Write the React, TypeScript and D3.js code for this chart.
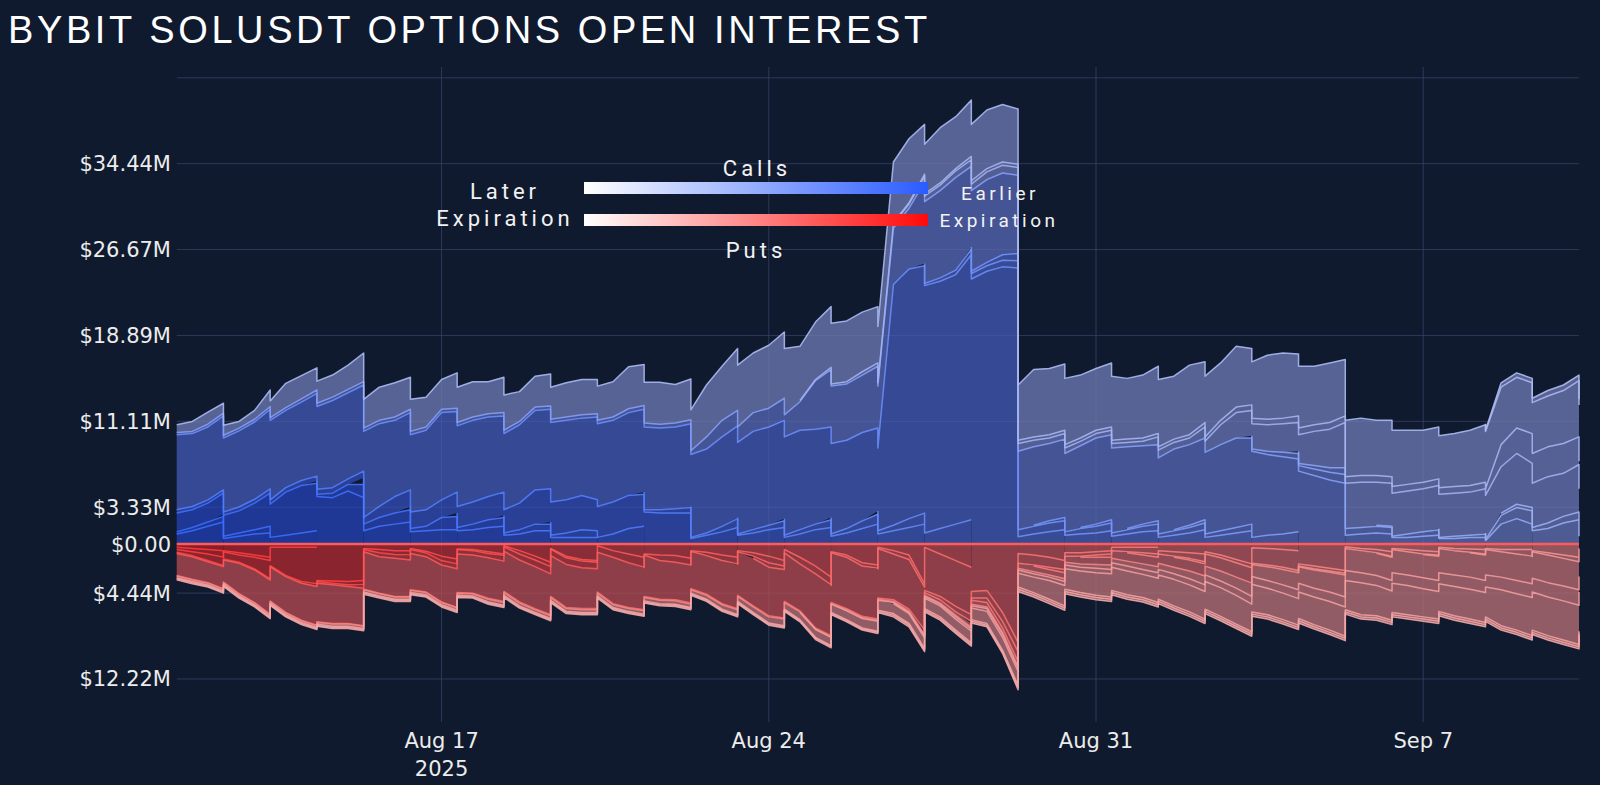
import React from 'react'
import * as d3 from 'd3'

// ---------- axis ticks ----------
const yTickValues = [-12.222, -4.444, 0, 3.333, 11.111, 18.889, 26.667, 34.444, 42.222]
const yTickLabels = ['$12.22M', '$4.44M', '$0.00', '$3.33M', '$11.11M', '$18.89M', '$26.67M', '$34.44M', '']
const xTickDates = ['2025-08-17', '2025-08-24', '2025-08-31', '2025-09-07']
const xTickLabels = [['Aug 17', '2025'], ['Aug 24'], ['Aug 31'], ['Sep 7']]

// samples every 8h starting 2025-08-11 08:00 UTC (index k = 0..90), values in $M
const startTime = '2025-08-11T08:00:00Z'
const sampleCount = 91

// ---------- calls open interest per expiry ----------
const callAug12 = [0.9, 1.2, 1.6, 2.0]
const callAug13 = [0.2, 0.3, 0.4, 0.5, 0.7, 0.9, 1.0]
const callAug14 = [0.2, 0.3, 0.4, 0.6, 0.8, 1.0, 1.2]
const callAug15 = [1.7, 1.6, 1.7, 1.9, 2.0, 2.4, 3.0, 3.9, 4.3, 4.3, 4.2, 4.8, 4.2]
const callAug16 = [0.2, 0.4, 0.6, 1.2, 1.6, 1.8, 2.0]
const callAug17 = [0.6, 0.8, 1.0, 1.1, 1.2, 1.3, 1.3]
const callAug18 = [0.3, 0.4, 1.1, 1.2, 1.3, 1.5, 1.6]
const callAug19 = [0.3, 0.5, 0.7, 0.8, 0.9, 1.2, 1.2]
const callAug20 = [0.2, 0.4, 0.6, 0.6, 0.6, 0.6, 0.6]
const callAug21 = [0.2, 0.4, 0.7, 0.6, 0.9, 1.4, 1.6]
const callAug22 = [0.3, 0.3, 0.3, 0.3, 0.35, 0.35, 0.4, 0.4, 0.45, 0.45, 0.5, 0.5, 0.6,
  1.0, 1.5, 1.5, 1.5, 1.6, 1.9, 2.0, 2.1, 2.1, 2.4, 3.1, 3.0, 3.0, 3.1, 2.8, 2.9, 3.0, 2.9, 2.8, 2.8, 2.8]
const callAug23 = [0.2, 0.3, 0.4, 0.5, 0.8, 1.1, 1.5]
const callAug24 = [0.1, 0.2, 0.5, 0.8, 1.0, 1.3, 1.5]
const callAug25 = [0.1, 0.3, 0.4, 0.6, 0.9, 1.3, 1.5]
const callAug26 = [0.2, 0.4, 0.5, 0.7, 1.0, 1.4, 1.8]
const callAug27 = [0.2, 0.4, 0.7, 0.9, 1.2, 1.5, 1.8]
const callAug28 = [0.3, 0.5, 0.8, 1.0, 1.4, 1.8, 2.2]
const callAug29 = [6.8, 6.6, 6.6, 6.7, 6.9, 7.0, 7.2, 7.0, 7.1, 7.5, 7.9, 7.8, 7.8, 7.5, 6.9, 7.0, 7.2, 7.9, 7.3, 7.4, 7.2,
  6.9, 7.1, 7.2, 7.2, 7.2, 7.0, 7.5, 7.4, 7.5, 7.5, 7.4, 7.4, 7.5,
  7.6, 8.1, 8.3, 8.9, 8.9, 8.9, 9.0, 8.6, 8.2, 8.0, 8.0, 7.5,
  21.8, 22.6, 22.4, 22.4, 22.6, 24.0, 24.7, 25.1, 25.0]
const callAug30 = [0.2, 0.3, 0.4, 0.5, 0.5, 0.6, 0.66, 0.9, 1.1, 1.3]
const callAug31 = [0.2, 0.3, 0.5, 0.64, 0.7, 0.8, 0.8, 0.9, 1.0, 1.2]
const callSep1 = [0.1, 0.2, 0.3, 0.5, 0.6, 0.7, 0.9, 1.1, 1.2]
const callSep2 = [0.1, 0.2, 0.3, 0.4, 0.5, 0.6, 0.8, 1.0, 1.3]
const callSep3 = [0.1, 0.2, 0.3, 0.4, 0.5, 0.6, 0.8, 1.0, 1.2]
const callSep4 = [0.1, 0.2, 0.3, 0.4, 0.5, 0.6, 0.8, 0.9, 1.1]
const callSep5 = [0.2, 0.2, 0.25, 0.25, 0.25, 0.25, 0.25, 0.25, 0.3, 0.3, 0.3, 0.3,
  0.3, 0.3, 0.3, 0.3, 0.3, 0.3, 0.3, 0.3, 0.3, 0.3, 0.3, 0.3, 0.3, 0.3, 0.3, 0.3, 0.3, 0.35, 0.35, 0.35, 0.35, 0.35,
  1.1, 1.5, 1.4, 1.7, 1.7, 2.0, 2.6, 4.4, 5.2, 5.1, 5.2, 5.6,
  5.1, 5.5, 7.4, 7.9, 8.4, 7.3, 7.5, 7.4, 7.1,
  7.1, 7.0, 7.1, 7.4, 7.8, 7.7, 7.4, 7.1, 6.9, 7.3, 7.3, 7.4, 7.8, 8.1, 7.8, 7.3, 7.0, 6.6, 6.2, 5.8, 5.5]
const callSep6 = [0.2, 0.3, 0.4, 0.5, 0.6, 0.7, 0.8, 0.9, 1.0, 0.9]
const callSep7 = [0.2, 0.3, 0.4, 0.6, 0.6, 0.6, 0.6, 0.6, 0.7, 0.8]
const callSep8 = [0.1, 0.1, 0.3, 0.4, 0.5, 0.5, 0.6, 0.6]
const callSep9 = [0.1, 0.2, 0.2, 0.3, 1.8, 2.3, 1.8]
const callSep10 = [0.1, 0.8, 1.0, 1.2, 1.4, 1.9, 2.2]
const callSep11 = [0.2, 0.3, 0.3, 0.5, 0.6, 0.7]
const callSep12 = [0.1, 0.1, 0.2, 0.2, 0.3, 0.3, 0.4, 0.4, 0.5, 0.5, 0.6, 0.6, 0.7, 0.7,
  0.7, 0.6, 0.5, 0.5, 0.4, 0.4, 0.4, 0.4, 0.4, 0.7, 0.6, 0.6, 1.0, 1.8, 2.3, 2.3, 2.4, 2.6, 2.6, 3.1, 3.5, 4.1,
  4.1, 3.9, 3.9, 3.9, 3.9, 3.9, 3.9, 3.9, 4.0, 4.2, 4.6, 4.0, 4.2, 3.9, 4.3]
const callSep19 = [0.1, 0.1, 0.2, 0.2, 0.2, 0.3, 0.3, 0.3,
  0.3, 0.3, 0.3, 0.3, 0.3, 0.3, 0.3, 0.3, 0.3, 0.3, 0.3, 0.3,
  0.4, 0.4, 0.5, 0.5, 0.5, 0.5, 0.6, 0.6, 0.6, 0.6,
  0.6, 0.6, 0.6, 0.6, 0.6, 0.6, 0.6, 0.6, 0.6,
  2.0, 2.3, 2.7, 2.7, 2.7, 2.5]
const callSep26 = [0.7, 0.9, 1.1, 0.9, 0.6, 0.8, 1.5, 2.2, 2.1, 2.0, 2.0, 2.2, 2.6, 3.0, 3.1, 2.9, 2.7, 2.7, 3.2, 3.2,
  2.9, 3.2, 2.7, 2.8, 2.9, 3.1, 3.2, 3.1, 3.2, 3.8, 3.7, 3.8, 3.5, 3.7,
  4.7, 4.9, 5.6, 5.4, 5.7, 6.0, 4.9, 5.2, 5.5, 5.5, 5.4, 5.1,
  5.5, 5.8, 4.5, 5.0, 4.7, 5.1, 5.3, 5.2,
  5.0, 6.1, 6.0, 6.0, 5.7, 5.6, 5.8, 5.5, 5.7, 6.1, 5.7, 6.3, 5.5, 5.2, 5.5, 5.1, 5.8, 5.9, 5.6, 5.3, 5.4, 5.1,
  5.2, 5.0, 5.1, 4.9, 4.7, 4.7, 4.8, 5.0, 5.2, 5.2, 4.6, 4.6, 4.6, 4.8, 5.1]
const callOct31 = [0.1, 0.4, 0.4, 0.4, 0.5, 0.5, 0.5]

// ---------- puts open interest per expiry ----------
const putAug12 = [0.3, 0.4, 0.5, 0.6]
const putAug13 = [0.2, 0.3, 0.4, 0.6, 0.8, 1.0, 1.2]
const putAug14 = [0.1, 0.2, 0.2, 0.3, 0.3, 0.3, 0.3]
const putAug15 = [0.25, 0.35, 0.6, 0.65, 0.65, 1.05, 1.66, 2.55, 3.1, 3.3, 3.35, 3.4, 3.3]
const putAug16 = [0.1, 0.2, 0.3, 0.4, 0.5, 0.6, 0.6]
const putAug17 = [0.1, 0.3, 0.35, 0.4, 0.65, 1.1, 1.35]
const putAug18 = [0.1, 0.15, 0.4, 0.45, 0.5, 0.7, 0.9]
const putAug19 = [0.05, 0.1, 0.15, 0.15, 0.6, 1.1, 1.65]
const putAug20 = [0.1, 0.3, 0.35, 0.4, 1.1, 1.4, 1.5]
const putAug21 = [0.05, 0.15, 0.15, 0.15, 0.6, 0.9, 1.2]
const putAug22 = [0.1, 0.1, 0.1, 0.1, 0.1, 0.1, 0.1, 0.1, 0.15, 0.15, 0.15, 0.15, 0.2,
  0.35, 0.35, 0.35, 0.35, 0.4, 0.4, 0.4, 0.4, 0.4, 0.55, 0.6, 0.6, 0.6, 0.6, 0.6, 0.6, 0.8, 0.9, 1.0, 1.05, 1.3]
const putAug23 = [0.1, 0.5, 0.6, 0.6, 0.75, 1.0, 1.2]
const putAug24 = [0.05, 0.3, 0.5, 0.6, 0.8, 1.1, 1.5]
const putAug25 = [0.1, 0.3, 0.6, 0.5, 1.2, 2.0, 3.0]
const putAug26 = [0.2, 0.4, 0.3, 0.6, 0.7, 0.7, 1.0, 1.7, 1.9]
const putAug27 = [0.1, 0.2, 0.3, 0.3, 0.6, 1.0, 3.6]
const putAug28 = [0.1, 0.3, 0.4, 0.3, 0.9, 1.5, 2.1]
const putAug29 = [2.0, 2.05, 1.9, 2.0, 2.75, 2.95, 3.1, 3.25, 3.35, 3.5, 3.5, 3.35, 3.4, 3.3, 3.45, 3.3, 3.2, 3.35, 3.5, 3.45, 3.65,
  3.65, 3.8, 3.8, 3.7, 3.9, 3.7, 3.6, 4.2, 4.05, 3.75, 3.5, 3.4, 3.4,
  3.5, 3.9, 3.95, 4.3, 4.4, 4.4, 4.25, 4.9, 4.5, 4.65, 4.55, 4.5, 4.15, 4.5, 3.9, 3.85, 4.15, 4.3, 4.2, 6.2, 8.9]
const putAug30 = [0.2, 0.3, 0.5, 0.6, 0.7, 0.8, 0.85, 1.0, 1.2, 1.5]
const putAug31 = [0.2, 0.4, 0.6, 0.9, 0.9, 0.9, 0.8, 0.8, 0.7, 0.6]
const putSep1 = [0.1, 0.2, 0.3, 0.3, 0.3, 0.3, 0.3, 0.3, 0.3]
const putSep2 = [0.1, 0.2, 0.3, 0.4, 0.5, 0.6, 0.7, 0.8, 0.9]
const putSep3 = [0.1, 0.2, 0.3, 0.4, 0.5, 0.7, 1.0, 1.4, 1.8]
const putSep4 = [0.1, 0.15, 0.2, 0.25, 0.3, 0.35, 0.4, 0.5, 0.6]
const putSep5 = [0.05, 0.05, 0.05, 0.05, 0.05, 0.05, 0.05, 0.05, 0.05, 0.05, 0.05, 0.05, 0.05, 0.05, 0.05, 0.05, 0.05, 0.05, 0.05, 0.05,
  0.1, 0.1, 0.1, 0.1, 0.1, 0.1, 0.1, 0.1, 0.1, 0.1, 0.1, 0.1, 0.1, 0.1, 0.1, 0.1, 0.1, 0.1, 0.1, 0.1, 0.1, 0.1, 0.1, 0.1, 0.1, 0.1,
  0.15, 0.2, 0.25, 0.3, 0.3, 0.35, 0.4, 0.4, 0.45,
  0.5, 0.5, 0.55, 0.6, 0.65, 0.7, 0.75, 0.8, 0.85, 0.9, 1.0, 1.1, 1.2, 1.3, 1.4, 1.5, 1.6, 1.8, 2.0, 2.2, 2.4]
const putSep6 = [0.1, 0.15, 0.2, 0.2, 0.25, 0.25, 0.25, 0.4, 0.5, 0.7]
const putSep7 = [0.05, 0.1, 0.1, 0.15, 0.2, 0.3, 0.4, 0.5, 0.6, 0.7]
const putSep8 = [0.05, 0.1, 0.2, 0.3, 0.3, 0.4, 0.45, 0.5]
const putSep9 = [0.05, 0.1, 0.2, 0.3, 0.4, 0.5, 0.5, 0.5]
const putSep10 = [0.05, 0.1, 0.2, 0.4, 0.6, 0.8, 1.0, 1.2]
const putSep11 = [0.1, 0.2, 0.3, 0.4]
const putSep12 = [0.05, 0.05, 0.05, 0.1, 0.1, 0.1, 0.1, 0.1, 0.1, 0.1, 0.15, 0.15, 0.15, 0.15, 0.15,
  0.2, 0.2, 0.25, 0.3, 0.35, 0.4, 0.45, 0.5, 0.55, 0.6, 0.7, 0.8, 0.9, 1.0, 1.1, 1.25, 1.4, 1.5, 1.65, 1.8, 2.0,
  2.0, 2.0, 2.1, 2.1, 2.1, 2.2, 2.2, 2.2, 2.3, 2.3, 2.4, 2.4, 2.5, 2.5, 2.55]
const putSep19 = [0.1, 0.1, 0.15, 0.15, 0.2, 0.2, 0.25, 0.3, 0.3,
  0.3, 0.3, 0.35, 0.35, 0.4, 0.4, 0.45, 0.45, 0.5, 0.5, 0.55, 0.6, 0.6, 0.65, 0.7, 0.7, 0.75, 0.8, 0.8, 0.85, 0.9,
  0.9, 0.9, 0.95, 0.95, 1.0, 1.0, 1.05, 1.1, 1.1, 1.15, 1.2, 1.25, 1.3, 1.35, 1.4]
const putSep26 = [0.15, 0.15, 0.15, 0.15, 0.15, 0.15, 0.15, 0.15, 0.15, 0.15,
  0.2, 0.2, 0.2, 0.2, 0.2, 0.2, 0.2, 0.2, 0.2, 0.2,
  0.25, 0.25, 0.25, 0.25, 0.25, 0.25, 0.25, 0.25, 0.25, 0.25,
  0.3, 0.3, 0.3, 0.3,
  0.35, 0.4, 0.45, 0.5, 0.55, 0.6, 0.65, 0.7, 0.75, 0.8, 0.85, 0.9,
  0.9, 0.9, 0.95, 1.0, 1.0, 1.05, 1.1, 1.15,
  1.25, 1.4, 1.7, 1.85, 1.95, 2.05, 2.1, 2.15, 2.1, 2.2, 2.4, 2.45, 2.5, 2.6, 2.6, 2.5, 2.4, 2.4, 2.4, 2.5, 2.6, 2.65,
  2.9, 2.75, 2.65, 2.65, 2.55, 2.5, 2.65, 2.7, 2.7, 3.25, 3.3, 3.45, 3.5, 3.55, 3.55]
const putOct31 = [0.1, 0.1, 0.1, 0.1, 0.1, 0.1, 0.1, 0.1, 0.1, 0.1, 0.1, 0.1, 0.1, 0.1, 0.1, 0.1, 0.1, 0.1, 0.1, 0.1,
  0.1, 0.1, 0.1, 0.1, 0.1, 0.1, 0.1, 0.1, 0.1, 0.1, 0.1, 0.1, 0.1, 0.1, 0.1, 0.1, 0.1, 0.1, 0.1, 0.1, 0.1, 0.1, 0.1, 0.1, 0.1, 0.1,
  0.15, 0.15, 0.15, 0.15, 0.15, 0.15, 0.15, 0.15,
  0.2, 0.2, 0.2, 0.2, 0.2, 0.2, 0.2, 0.2, 0.2, 0.2, 0.2, 0.2, 0.2, 0.2, 0.2, 0.2, 0.2, 0.2, 0.2, 0.2,
  0.2, 0.2, 0.2, 0.2, 0.2, 0.2, 0.2, 0.2, 0.2, 0.2, 0.2, 0.2, 0.2, 0.2, 0.2, 0.2, 0.2]
const putDec26 = [0.1, 0.1, 0.1, 0.1, 0.1, 0.1, 0.1, 0.1, 0.1, 0.1, 0.1, 0.1, 0.1, 0.1, 0.1, 0.1, 0.1, 0.1, 0.1, 0.1,
  0.1, 0.1, 0.1, 0.1, 0.1, 0.1, 0.1, 0.1, 0.1, 0.1, 0.1, 0.1, 0.1, 0.1, 0.1, 0.1, 0.1, 0.1, 0.1, 0.1, 0.1, 0.1, 0.1, 0.1, 0.1, 0.1,
  0.15, 0.15, 0.15, 0.15, 0.15, 0.15, 0.15, 0.15,
  0.2, 0.2, 0.2, 0.2, 0.2, 0.2, 0.2, 0.2, 0.2, 0.2, 0.2, 0.2, 0.2, 0.2, 0.2, 0.2, 0.2, 0.2, 0.2, 0.2,
  0.2, 0.2, 0.2, 0.2, 0.2, 0.2, 0.2, 0.2, 0.2, 0.2, 0.2, 0.2, 0.2, 0.2, 0.2, 0.2, 0.2]

interface Series { exp: string; start: number; v: number[] }

// tables built from the arrays above (expiry ascending = stacked from zero outward)
const callSeries: Series[] = [
  { exp: '2025-08-12', start: 0, v: callAug12 },
  { exp: '2025-08-13', start: 0, v: callAug13 },
  { exp: '2025-08-14', start: 3, v: callAug14 },
  { exp: '2025-08-15', start: 0, v: callAug15 },
  { exp: '2025-08-16', start: 9, v: callAug16 },
  { exp: '2025-08-17', start: 12, v: callAug17 },
  { exp: '2025-08-18', start: 15, v: callAug18 },
  { exp: '2025-08-19', start: 18, v: callAug19 },
  { exp: '2025-08-20', start: 21, v: callAug20 },
  { exp: '2025-08-21', start: 24, v: callAug21 },
  { exp: '2025-08-22', start: 0, v: callAug22 },
  { exp: '2025-08-23', start: 30, v: callAug23 },
  { exp: '2025-08-24', start: 33, v: callAug24 },
  { exp: '2025-08-25', start: 36, v: callAug25 },
  { exp: '2025-08-26', start: 39, v: callAug26 },
  { exp: '2025-08-27', start: 42, v: callAug27 },
  { exp: '2025-08-28', start: 45, v: callAug28 },
  { exp: '2025-08-29', start: 0, v: callAug29 },
  { exp: '2025-08-30', start: 48, v: callAug30 },
  { exp: '2025-08-31', start: 51, v: callAug31 },
  { exp: '2025-09-01', start: 55, v: callSep1 },
  { exp: '2025-09-02', start: 58, v: callSep2 },
  { exp: '2025-09-03', start: 61, v: callSep3 },
  { exp: '2025-09-04', start: 64, v: callSep4 },
  { exp: '2025-09-05', start: 0, v: callSep5 },
  { exp: '2025-09-06', start: 69, v: callSep6 },
  { exp: '2025-09-07', start: 72, v: callSep7 },
  { exp: '2025-09-08', start: 77, v: callSep8 },
  { exp: '2025-09-09', start: 81, v: callSep9 },
  { exp: '2025-09-10', start: 84, v: callSep10 },
  { exp: '2025-09-11', start: 85, v: callSep11 },
  { exp: '2025-09-12', start: 40, v: callSep12 },
  { exp: '2025-09-19', start: 46, v: callSep19 },
  { exp: '2025-09-26', start: 0, v: callSep26 },
  { exp: '2025-10-31', start: 84, v: callOct31 },
]

const putSeries: Series[] = [
  { exp: '2025-08-12', start: 0, v: putAug12 },
  { exp: '2025-08-13', start: 0, v: putAug13 },
  { exp: '2025-08-14', start: 3, v: putAug14 },
  { exp: '2025-08-15', start: 0, v: putAug15 },
  { exp: '2025-08-16', start: 9, v: putAug16 },
  { exp: '2025-08-17', start: 12, v: putAug17 },
  { exp: '2025-08-18', start: 15, v: putAug18 },
  { exp: '2025-08-19', start: 18, v: putAug19 },
  { exp: '2025-08-20', start: 21, v: putAug20 },
  { exp: '2025-08-21', start: 24, v: putAug21 },
  { exp: '2025-08-22', start: 0, v: putAug22 },
  { exp: '2025-08-23', start: 30, v: putAug23 },
  { exp: '2025-08-24', start: 33, v: putAug24 },
  { exp: '2025-08-25', start: 36, v: putAug25 },
  { exp: '2025-08-26', start: 37, v: putAug26 },
  { exp: '2025-08-27', start: 42, v: putAug27 },
  { exp: '2025-08-28', start: 45, v: putAug28 },
  { exp: '2025-08-29', start: 0, v: putAug29 },
  { exp: '2025-08-30', start: 48, v: putAug30 },
  { exp: '2025-08-31', start: 51, v: putAug31 },
  { exp: '2025-09-01', start: 55, v: putSep1 },
  { exp: '2025-09-02', start: 58, v: putSep2 },
  { exp: '2025-09-03', start: 61, v: putSep3 },
  { exp: '2025-09-04', start: 64, v: putSep4 },
  { exp: '2025-09-05', start: 0, v: putSep5 },
  { exp: '2025-09-06', start: 69, v: putSep6 },
  { exp: '2025-09-07', start: 72, v: putSep7 },
  { exp: '2025-09-08', start: 77, v: putSep8 },
  { exp: '2025-09-09', start: 80, v: putSep9 },
  { exp: '2025-09-10', start: 83, v: putSep10 },
  { exp: '2025-09-11', start: 87, v: putSep11 },
  { exp: '2025-09-12', start: 40, v: putSep12 },
  { exp: '2025-09-19', start: 46, v: putSep19 },
  { exp: '2025-09-26', start: 0, v: putSep26 },
  { exp: '2025-10-31', start: 0, v: putOct31 },
  { exp: '2025-12-26', start: 0, v: putDec26 },
]

// ---------- layout ----------
const W = 1600
const H = 785
const plot = { left: 176.7, right: 1579, top: 67, bottom: 722 }
const BG = '#101a2e'
const GRID = '#212e50'

const T0 = Date.parse(startTime)
const STEP = 8 * 3600 * 1000

interface Row { t: number; v: number[]; alive: boolean[] }

const buildRows = (series: Series[]): Row[] => {
  const expK = series.map(s => Math.round((Date.parse(s.exp + 'T08:00:00Z') - T0) / STEP))
  const make = (k: number, dropExpired: boolean): Row => {
    const v: number[] = []
    const alive: boolean[] = []
    series.forEach((s, i) => {
      const j = k - s.start
      let a = j >= 0 && j < s.v.length
      if (dropExpired && expK[i] === k) a = false
      v.push(a ? s.v[j] : 0)
      alive.push(a)
    })
    return { t: T0 + k * STEP, v, alive }
  }
  const rows: Row[] = []
  for (let k = 0; k < sampleCount; k++) {
    rows.push(make(k, false))
    // an expiry at this sample: repeat the instant without it, so the stack drops vertically
    if (expK.some(e => e === k)) rows.push(make(k, true))
  }
  return rows
}

const x = d3.scaleUtc().domain([T0, T0 + (sampleCount - 1) * STEP]).range([plot.left, plot.right])
const y = d3.scaleLinear().domain([-16.12, 43.2]).range([plot.bottom, plot.top])

const allExp = Array.from(new Set([...callSeries, ...putSeries].map(s => s.exp))).sort()
const rankOf = (exp: string) => allExp.indexOf(exp) / (allExp.length - 1)

const callFillI = d3.interpolateRgb('#1c3696', '#5c6694')
const callLineI = d3.interpolateRgb('#3a6bff', '#b3bff0')
const callFill = (t: number) => callFillI(Math.pow(t, 1.25))
const callLine = (t: number) => callLineI(Math.pow(t, 1.25))
const putFill = d3.interpolateRgb('#891e29', '#926069')
const putLine = d3.interpolateRgb('#ff3a3a', '#f2a8a8')

const Side = ({ series, sign, fill, line }: {
  series: Series[]; sign: number; fill: (t: number) => string; line: (t: number) => string
}) => {
  const rows = buildRows(series)
  const keys = series.map((_, i) => i)
  const stacked = d3.stack<Row, number>().keys(keys).value((r, k) => r.v[k])(rows)
  const areas = stacked.map((layer, i) => {
    const defined = (d: any) => d.data.alive[i]
    const area = d3.area<any>().defined(defined)
      .x(d => x(d.data.t)).y0(d => y(sign * d[0])).y1(d => y(sign * d[1]))
    const ln = d3.line<any>().defined(defined).x(d => x(d.data.t)).y(d => y(sign * d[1]))
    const t = rankOf(series[i].exp)
    return { a: area(layer) || '', l: ln(layer) || '', fill: fill(t), stroke: line(t) }
  })
  return { areas }
}

const GridLines = ({ stroke, opacity }: { stroke: string; opacity: number }) => (
  <g stroke={stroke} strokeOpacity={opacity} strokeWidth={1}>
    {yTickValues.filter(v => v !== 0).map((v, i) => (
      <line key={'h' + i} x1={plot.left} x2={plot.right} y1={y(v)} y2={y(v)} />
    ))}
    {xTickDates.map((d, i) => {
      const px = x(Date.parse(d + 'T00:00:00Z'))
      return <line key={'v' + i} x1={px} x2={px} y1={plot.top} y2={plot.bottom} />
    })}
  </g>
)

const App = () => {
  const calls = Side({ series: callSeries, sign: 1, fill: callFill, line: callLine })
  const puts = Side({ series: putSeries, sign: -1, fill: putFill, line: putLine })
  const tickFont = 'Verdana, "DejaVu Sans", sans-serif'
  const legendFont = 'Roboto, "Liberation Sans", sans-serif'

  return (
    <div style={{ position: 'absolute', left: 0, top: 0 }}>
      <svg width={W} height={H} style={{ display: 'block' }}>
        <defs>
          <linearGradient id='gCalls' x1='0' x2='1' y1='0' y2='0'>
            <stop offset='0%' stopColor='#ffffff' />
            <stop offset='100%' stopColor='#2a5bff' />
          </linearGradient>
          <linearGradient id='gPuts' x1='0' x2='1' y1='0' y2='0'>
            <stop offset='0%' stopColor='#ffffff' />
            <stop offset='100%' stopColor='#ff0a0a' />
          </linearGradient>
        </defs>
        <rect width={W} height={H} fill={BG} />

        <GridLines stroke={GRID} opacity={1} />

        {/* stacked fills */}
        {calls.areas.map((d, i) => <path key={'ca' + i} d={d.a} fill={d.fill} />)}
        {puts.areas.map((d, i) => <path key={'pa' + i} d={d.a} fill={d.fill} />)}

        {/* grid shows faintly through the fills */}
        <GridLines stroke='#ffffff' opacity={0.06} />

        {/* expiry boundary lines */}
        {calls.areas.map((d, i) => (
          <path key={'cl' + i} d={d.l} fill='none' stroke={d.stroke} strokeWidth={1.5} strokeOpacity={0.9} strokeLinejoin='round' />
        ))}
        {puts.areas.map((d, i) => (
          <path key={'pl' + i} d={d.l} fill='none' stroke={d.stroke} strokeWidth={1.5} strokeOpacity={0.9} strokeLinejoin='round' />
        ))}

        {/* zero line */}
        <line x1={plot.left} x2={plot.right} y1={y(0)} y2={y(0)} stroke='#ff5b5b' strokeWidth={2.5} />

        {/* y tick labels */}
        <g fontFamily={tickFont} fontSize={21} fill='#ececec' textAnchor='end'>
          {yTickValues.map((v, i) => (
            <text key={i} x={171} y={y(v) + 7.5}>{yTickLabels[i]}</text>
          ))}
        </g>

        {/* x tick labels */}
        <g fontFamily={tickFont} fontSize={21} fill='#ececec' textAnchor='middle'>
          {xTickDates.map((d, i) => {
            const px = x(Date.parse(d + 'T00:00:00Z'))
            return (
              <text key={i} x={px} y={748}>
                {xTickLabels[i].map((s, j) => (
                  <tspan key={j} x={px} dy={j === 0 ? 0 : 28}>{s}</tspan>
                ))}
              </text>
            )
          })}
        </g>

        {/* legend */}
        <rect x={584} y={182} width={344} height={12} fill='url(#gCalls)' />
        <rect x={584} y={214} width={344} height={12} fill='url(#gPuts)' />
        <g fontFamily={legendFont} fill='#f2f2f2' textAnchor='middle'>
          <text x={757} y={176} fontSize={22} letterSpacing={4}>Calls</text>
          <text x={756} y={258} fontSize={22} letterSpacing={4}>Puts</text>
          <text x={505} y={199} fontSize={22} letterSpacing={4}>Later</text>
          <text x={505} y={226} fontSize={22} letterSpacing={4}>Expiration</text>
          <text x={1000} y={200} fontSize={19} letterSpacing={3.5}>Earlier</text>
          <text x={999} y={227} fontSize={19} letterSpacing={3.5}>Expiration</text>
        </g>

        {/* title */}
        <text x={8} y={43} fontFamily='"Liberation Sans", Arial, sans-serif' fontSize={38} letterSpacing={3.6} fill='#ffffff'>
          BYBIT SOLUSDT OPTIONS OPEN INTEREST
        </text>
      </svg>
    </div>
  )
}

export default App
